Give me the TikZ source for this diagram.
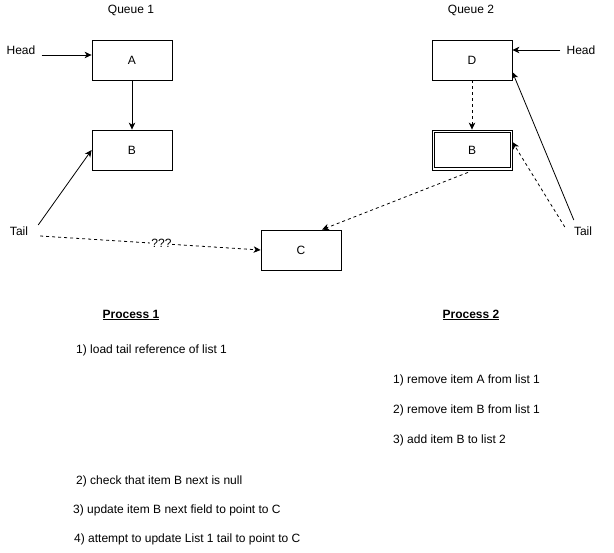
\documentclass[tikz,border=0pt]{standalone}
\usepackage{fontspec}
\setmainfont{Liberation Sans}
\usetikzlibrary{arrows.meta}
\begin{document}
\begin{tikzpicture}[x=1pt,y=-1pt,
  font=\fontsize{12}{14}\selectfont,
  box/.style={draw,line width=0.8pt,minimum width=80pt,minimum height=40pt,inner sep=0pt},
  lbl/.style={inner sep=0pt},
  arr/.style={line width=0.8pt,-{Stealth[length=7pt,width=6.5pt,inset=2pt]}},
  dsh/.style={arr,dash pattern=on 3pt off 3pt}]
\useasboundingbox[fill=white] (0,0) rectangle (614,553);
% titles
\node[lbl] (q1) at (131,10) {Queue 1};
\node[lbl] (q2) at (471,10) {Queue 2};
% boxes
\node[box] (A) at (132,60) {A};
\node[box] (B) at (132,150) {B};
\node[box] (C) at (301,250) {C};
\node[box] (D) at (472,60) {D};
\node[box] (B2) at (472,150) {B};
\draw[line width=0.8pt] ([shift={(2.5pt,-2.5pt)}]B2.north west) rectangle ([shift={(-2.5pt,2.5pt)}]B2.south east);
% labels
\node[lbl] (hl) at (21,50) {Head};
\node[lbl] (hr) at (581,50) {Head};
\node[lbl] (tl) at (19,231) {Tail};
\node[lbl] (tr) at (583,231) {Tail};
% connectors queue 1
\draw[arr] ([shift={(6pt,-5pt)}]hl.east) -- ([yshift=5pt]A.west);
\draw[arr] (A.south) -- (B.north);
\draw[arr] ([shift={(10pt,6pt)}]tl.east) -- (B.west);
\draw[dsh] ([shift={(12pt,-5pt)}]tl.east) -- node[lbl,fill=white,pos=0.55,inner xsep=1pt] (qq) {???} (C.west);
% connectors queue 2
\draw[arr] ([xshift=-6pt]hr.west) -- ([yshift=10pt]D.east);
\draw[dsh] (D.south) -- (B2.north);
\draw[dsh] ([shift={(-4pt,-2pt)}]B2.south) -- ([xshift=21pt]C.north);
\draw[arr] ([shift={(0pt,11pt)}]tr.west) -- ([yshift=-12pt]D.east);
\draw[dsh] ([shift={(-9pt,4pt)}]tr.west) -- ([yshift=8pt]B2.east);
% process text
\node[lbl,font=\fontsize{12}{14}\selectfont\bfseries] (p1) at (131,315) {\underline{Process 1}};
\node[lbl,font=\fontsize{12}{14}\selectfont\bfseries] (p2) at (471,315) {\underline{Process 2}};
\node[lbl,anchor=west] (s11) at (76,350) {1) load tail reference of list 1};
\node[lbl,anchor=west] (s12) at (76,481) {2) check that item B next is null};
\node[lbl,anchor=west] (s13) at (73,510) {3) update item B next field to point to C};
\node[lbl,anchor=west] (s14) at (74,539) {4) attempt to update List 1 tail to point to C};
\node[lbl,anchor=west] (s21) at (393,380) {1) remove item A from list 1};
\node[lbl,anchor=west] (s22) at (393,410) {2) remove item B from list 1};
\node[lbl,anchor=west] (s23) at (393,440) {3) add item B to list 2};
\end{tikzpicture}
\end{document}
